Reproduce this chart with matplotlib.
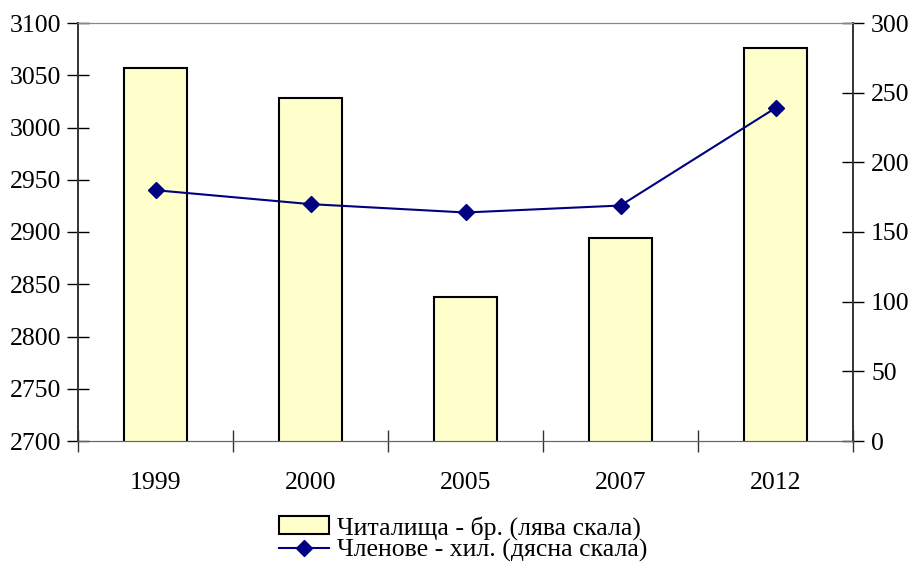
import numpy as np
import matplotlib.pyplot as plt

years = ["1999", "2000", "2005", "2007", "2012"]
chitalishta = [3057, 3028, 2838, 2894, 3076]
chlenove = [180, 170, 164, 169, 239]

label_bars = "Читалища - бр. (лява скала)"
label_line = "Членове - хил. (дясна скала)"

plt.rcParams["font.family"] = ["Liberation Serif", "DejaVu Serif"]
plt.rcParams["font.size"] = 18.5

fig = plt.figure(figsize=(9.1, 5.62), dpi=100)
ax = fig.add_axes([78 / 910, 1 - 441 / 562, (853 - 78) / 910, (441 - 23) / 562])
ax2 = ax.twinx()

x = np.arange(len(years))
bars = ax.bar(x, chitalishta, width=0.41, color="#FFFFCC", edgecolor="black",
              linewidth=1.5, label=label_bars, zorder=2)
line, = ax2.plot(x, chlenove, color="#000080", marker="D", markersize=8,
                 linewidth=1.5, label=label_line)

ax.set_ylim(2700, 3100)
ax.set_yticks(np.arange(2700, 3101, 50))
ax2.set_ylim(0, 300)
ax2.set_yticks(np.arange(0, 301, 50))
ax.set_xlim(-0.5, len(years) - 0.5)

ax.set_xticks(x)
ax.set_xticklabels(years)
ax.tick_params(axis="x", which="major", length=0, pad=22.5)
ax.set_xticks(np.arange(-0.5, len(years)), minor=True)
ax.tick_params(axis="x", which="minor", direction="inout", length=16, width=1, color="#333333")
ax.tick_params(axis="y", direction="inout", length=16, width=1, pad=4)
ax2.tick_params(axis="y", direction="inout", length=16, width=1, pad=5)

for a in (ax, ax2):
    a.spines["top"].set_color("#888888")
    a.spines["bottom"].set_color("#666666")
    a.spines["left"].set_color("#333333")
    a.spines["right"].set_color("#333333")
    a.spines["left"].set_linewidth(1.2)
    a.spines["right"].set_linewidth(1.2)

fig.legend([bars, line], [label_bars, label_line], loc="center",
           bbox_to_anchor=(0.509, 1 - 539 / 562), frameon=False, fontsize=18.5,
           labelspacing=-0.05, handlelength=1.95, handletextpad=0.3,
           borderpad=0.0)

fig.savefig("out.png", dpi=100)
